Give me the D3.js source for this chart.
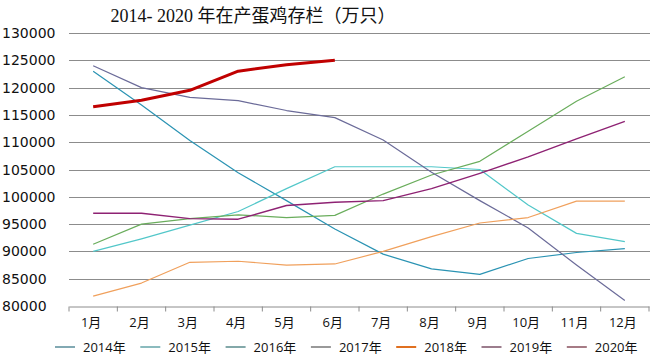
<!DOCTYPE html>
<html lang="zh">
<head>
<meta charset="UTF-8">
<title>2014-2020 年在产蛋鸡存栏</title>
<script src="https://d3js.org/d3.v7.min.js"></script>
<style>
    body { margin: 0; background: #fff; }
    svg { display: block; }
    .grid line { stroke: #8c8c8c; stroke-width: 1; }
    .ylab { font-family: "DejaVu Sans", sans-serif; font-size: 14px; fill: #111; }
    .xlab, .leg { font-family: "Open Sans", "Noto Sans CJK SC", sans-serif; font-size: 13px; fill: #111; }
</style>
</head>
<body>
<div id="chart"></div>
<script>
    const months = ['1月', '2月', '3月', '4月', '5月', '6月', '7月', '8月', '9月', '10月', '11月', '12月'];
    const yTicks = [80000, 85000, 90000, 95000, 100000, 105000, 110000, 115000, 120000, 125000, 130000];

    const y2014 = [123000, 116800, 110300, 104400, 99300, 94100, 89500, 86800, 85800, 88700, 89800, 90500];
    const y2015 = [90000, 92300, 94800, 97300, 101500, 105500, 105500, 105500, 105000, 98500, 93300, 91800];
    const y2016 = [91300, 95000, 96000, 96700, 96200, 96600, 100500, 104000, 106500, 112000, 117500, 122000];
    const y2017 = [124000, 120000, 118200, 117600, 115800, 114500, 110400, 104500, 99300, 94300, 87500, 81000];
    const y2018 = [81800, 84200, 88000, 88200, 87500, 87700, 90000, 92700, 95200, 96200, 99200, 99200];
    const y2019 = [97000, 97000, 96000, 95900, 98400, 99000, 99300, 101500, 104300, 107300, 110600, 113800];
    const y2020 = [116500, 117700, 119500, 123000, 124200, 125000];

    const seriesNames = ['2014年', '2015年', '2016年', '2017年', '2018年', '2019年', '2020年'];
    const seriesValues = [y2014, y2015, y2016, y2017, y2018, y2019, y2020];

    const lineColors = ['#2a93b3', '#52c7c9', '#6aad5c', '#6b6b99', '#f0a05c', '#8e2273', '#c00000'];
    const lineWidths = [1.2, 1.2, 1.2, 1.2, 1.2, 1.4, 3];
    const legendColors = ['#2e6f80', '#3d8d92', '#2f6e70', '#555555', '#e07020', '#5a2540', '#6a2333'];

    const width = 650, height = 361;
    const margin = { top: 33, right: 1, bottom: 55, left: 69 };

    const svg = d3.select('#chart').append('svg')
        .attr('width', width)
        .attr('height', height);

    const x = d3.scaleBand()
        .domain(months)
        .range([margin.left, width - margin.right]);

    const y = d3.scaleLinear()
        .domain([80000, 130000])
        .range([height - margin.bottom, margin.top]);

    // title
    svg.append('text')
        .attr('x', 253)
        .attr('y', 22)
        .attr('text-anchor', 'middle')
        .style('font-family', '"Liberation Serif", "Noto Sans CJK SC", serif')
        .style('font-size', '18px')
        .style('fill', '#111')
        .text('2014- 2020 年在产蛋鸡存栏（万只）');

    // gridlines
    svg.append('g')
        .attr('class', 'grid')
        .selectAll('line')
        .data(yTicks.slice(1))
        .join('line')
        .attr('x1', margin.left)
        .attr('x2', width)
        .attr('y1', d => Math.round(y(d)) + 0.5)
        .attr('y2', d => Math.round(y(d)) + 0.5);

    // y labels
    svg.append('g')
        .selectAll('text')
        .data(yTicks)
        .join('text')
        .attr('class', 'ylab')
        .attr('x', 2)
        .attr('y', d => y(d) + 5)
        .text(d => d);

    // x axis
    const xAxis = svg.append('g')
        .attr('transform', `translate(0,${Math.round(y(80000)) + 0.5})`)
        .call(d3.axisBottom(x).tickSize(0).tickFormat(''));
    xAxis.select('.domain').attr('stroke', '#8c8c8c');
    xAxis.selectAll('.tk')
        .data(months.concat(['end']))
        .join('line')
        .attr('class', 'tk')
        .attr('x1', (d, i) => i < months.length ? x(d) : width - margin.right)
        .attr('x2', (d, i) => i < months.length ? x(d) : width - margin.right)
        .attr('y1', 0)
        .attr('y2', 5)
        .attr('stroke', '#8c8c8c');

    svg.append('g')
        .selectAll('text')
        .data(months)
        .join('text')
        .attr('class', 'xlab')
        .attr('x', d => x(d) + x.bandwidth() / 2 - 2)
        .attr('y', 327)
        .attr('text-anchor', 'middle')
        .text(d => d);

    // lines
    const line = d3.line()
        .x((d, i) => x(months[i]) + x.bandwidth() / 2)
        .y(d => y(d));

    svg.append('g')
        .selectAll('path')
        .data(seriesValues)
        .join('path')
        .attr('fill', 'none')
        .attr('stroke', (d, i) => lineColors[i])
        .attr('stroke-width', (d, i) => lineWidths[i])
        .attr('stroke-linejoin', 'round')
        .attr('d', line);

    // legend
    const leg = svg.append('g')
        .selectAll('g')
        .data(seriesNames)
        .join('g')
        .attr('transform', (d, i) => `translate(${55 + i * 85.3},347)`);

    leg.append('line')
        .attr('x1', 0)
        .attr('x2', 20)
        .attr('y1', 0)
        .attr('y2', 0)
        .attr('stroke', (d, i) => legendColors[i])
        .attr('stroke-width', (d, i) => i === 4 ? 2 : 1.2);

    leg.append('text')
        .attr('class', 'leg')
        .attr('x', 28)
        .attr('y', 5)
        .text(d => d);
</script>
</body>
</html>
